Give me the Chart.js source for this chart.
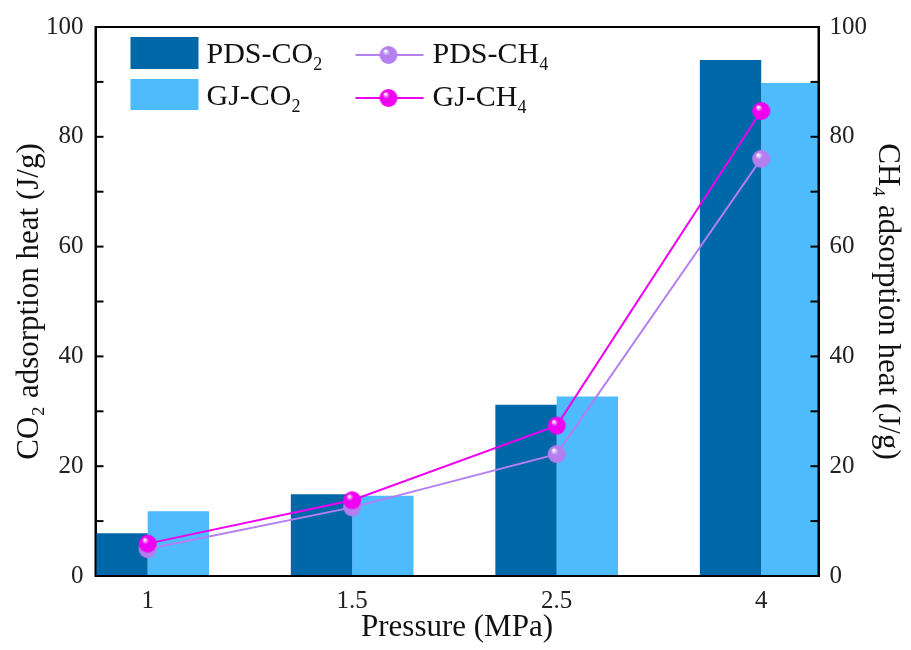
<!DOCTYPE html>
<html>
<head>
<meta charset="utf-8">
<script src="https://cdn.jsdelivr.net/npm/chart.js@4"></script>
<style>
  html, body { margin: 0; background: #fff; }
</style>
</head>
<body>
<canvas id="heatChart" width="911" height="650"></canvas>
<script>
// values
const pressures = ['1', '1.5', '2.5', '4'];
const pdsCO2 = [7.8, 14.9, 31.2, 94.0];
const gjCO2 = [11.8, 14.6, 32.7, 89.8];
const pdsCH4 = [4.9, 12.5, 22.2, 76.0];
const gjCH4 = [5.9, 13.8, 27.4, 84.7];

const serif = '"Liberation Serif", "Times New Roman", serif';
const colPdsCO2 = '#0068a8';
const colGjCO2 = '#4dbbfc';
const colPdsCH4 = '#b57ff0';
const colGjCH4 = '#f000f0';

function xy(values) {
    return values.map((v, i) => ({ x: i, y: v }));
}

// shaded ball marker
function sphere(color, r) {
    const c = document.createElement('canvas');
    c.width = c.height = r * 2 + 2;
    const g = c.getContext('2d');
    const grad = g.createRadialGradient(r * 0.75, r * 0.65, 0.5, r + 1, r + 1, r);
    grad.addColorStop(0, '#ffffff');
    grad.addColorStop(0.35, color);
    grad.addColorStop(1, color);
    g.fillStyle = grad;
    g.beginPath();
    g.arc(r + 1, r + 1, r, 0, Math.PI * 2);
    g.fill();
    return c;
}
const ballPds = sphere(colPdsCH4, 9);
const ballGj = sphere(colGjCH4, 9);

// text with a subscript part, e.g. PDS-CO + 2
function subText(ctx, main, sub, x, y, size) {
    ctx.font = size + 'px ' + serif;
    ctx.textAlign = 'left';
    ctx.textBaseline = 'alphabetic';
    ctx.fillText(main, x, y);
    const w = ctx.measureText(main).width;
    ctx.font = Math.round(size * 0.6) + 'px ' + serif;
    ctx.fillText(sub, x + w, y + 7);
}

const framePlugin = {
    id: 'frame',
    afterDraw(chart) {
        const ctx = chart.ctx;
        const a = chart.chartArea;
        ctx.save();
        ctx.strokeStyle = '#000';
        ctx.lineWidth = 2;
        ctx.beginPath();
        ctx.rect(a.left, a.top, a.right - a.left, a.bottom - a.top);
        ctx.stroke();
        // inward ticks on both y axes
        ['y', 'y1'].forEach(id => {
            const s = chart.scales[id];
            s.ticks.forEach(t => {
                const py = s.getPixelForValue(t.value);
                const len = 8;
                ctx.beginPath();
                if (id === 'y') { ctx.moveTo(a.left, py); ctx.lineTo(a.left + len, py); }
                else { ctx.moveTo(a.right, py); ctx.lineTo(a.right - len, py); }
                ctx.stroke();
            });
        });

        // legend inside the plot, two rows by two columns
        const lx = a.left + 35, ly = a.top + 10;
        ctx.fillStyle = colPdsCO2;
        ctx.fillRect(lx, ly, 68, 32);
        ctx.fillStyle = colGjCO2;
        ctx.fillRect(lx, ly + 42, 68, 31);
        ctx.fillStyle = '#111';
        subText(ctx, 'PDS-CO', '2', lx + 76, ly + 26, 30);
        subText(ctx, 'GJ-CO', '2', lx + 76, ly + 68, 30);

        const mx = lx + 225;
        [[colPdsCH4, ballPds, 'PDS-CH', ly + 18], [colGjCH4, ballGj, 'GJ-CH', ly + 61]].forEach(([c, ball, txt, cy]) => {
            ctx.strokeStyle = c;
            ctx.lineWidth = 2;
            ctx.beginPath();
            ctx.moveTo(mx, cy);
            ctx.lineTo(mx + 68, cy);
            ctx.stroke();
            ctx.drawImage(ball, mx + 33 - ball.width / 2, cy - ball.height / 2);
            ctx.fillStyle = '#111';
            subText(ctx, txt, '4', mx + 77, cy + 8, 30);
        });
        ctx.restore();
    }
};

const ctx = document.getElementById('heatChart').getContext('2d');
new Chart(ctx, {
    data: {
        datasets: [
            {
                type: 'line',
                label: 'GJ-CH4',
                data: xy(gjCH4),
                yAxisID: 'y1',
                borderColor: colGjCH4,
                borderWidth: 2,
                pointStyle: ballGj,
                order: 0
            },
            {
                type: 'line',
                label: 'PDS-CH4',
                data: xy(pdsCH4),
                yAxisID: 'y1',
                borderColor: colPdsCH4,
                borderWidth: 2,
                pointStyle: ballPds,
                order: 1
            },
            {
                type: 'bar',
                label: 'PDS-CO2',
                data: xy(pdsCO2),
                yAxisID: 'y',
                backgroundColor: colPdsCO2,
                categoryPercentage: 0.6,
                barPercentage: 1,
                order: 2
            },
            {
                type: 'bar',
                label: 'GJ-CO2',
                data: xy(gjCO2),
                yAxisID: 'y',
                backgroundColor: colGjCO2,
                categoryPercentage: 0.6,
                barPercentage: 1,
                order: 2
            }
        ]
    },
    options: {
        responsive: false,
        animation: false,
        layout: { padding: { left: 4, right: 5, top: 16, bottom: 7 } },
        plugins: {
            legend: { display: false },
            tooltip: { enabled: false }
        },
        scales: {
            x: {
                type: 'linear',
                offset: false,
                min: -0.255,
                max: 3.28,
                grid: { display: false, drawTicks: false },
                border: { display: true, color: '#000', width: 2 },
                ticks: {
                    stepSize: 1,
                    includeBounds: false,
                    padding: 13,
                    color: '#222',
                    font: { family: serif, size: 25, lineHeight: 1 },
                    callback: v => Number.isInteger(v) ? pressures[v] : ''
                },
                title: {
                    display: true,
                    text: 'Pressure (MPa)',
                    color: '#111',
                    font: { family: serif, size: 31, lineHeight: 1 },
                    padding: { top: -15, bottom: 0 }
                }
            },
            y: {
                position: 'left',
                min: 0,
                max: 100,
                grid: { display: false, drawTicks: false },
                border: { display: true, color: '#000', width: 2 },
                ticks: {
                    stepSize: 10,
                    padding: 12,
                    color: '#222',
                    font: { family: serif, size: 25 },
                    callback: v => v % 20 === 0 ? v : ''
                },
                title: {
                    display: true,
                    text: 'CO₂ adsorption heat (J/g)',
                    color: '#111',
                    font: { family: serif, size: 31, lineHeight: 1 },
                    padding: { top: 10, bottom: -11 }
                }
            },
            y1: {
                position: 'right',
                min: 0,
                max: 100,
                grid: { display: false, drawTicks: false },
                border: { display: true, color: '#000', width: 2 },
                ticks: {
                    stepSize: 10,
                    padding: 11,
                    color: '#222',
                    font: { family: serif, size: 25 },
                    callback: v => v % 20 === 0 ? v : ''
                },
                title: {
                    display: true,
                    text: 'CH₄ adsorption heat (J/g)',
                    color: '#111',
                    font: { family: serif, size: 31, lineHeight: 1 },
                    padding: { top: 3, bottom: -6 }
                }
            }
        }
    },
    plugins: [framePlugin]
});
</script>
</body>
</html>
